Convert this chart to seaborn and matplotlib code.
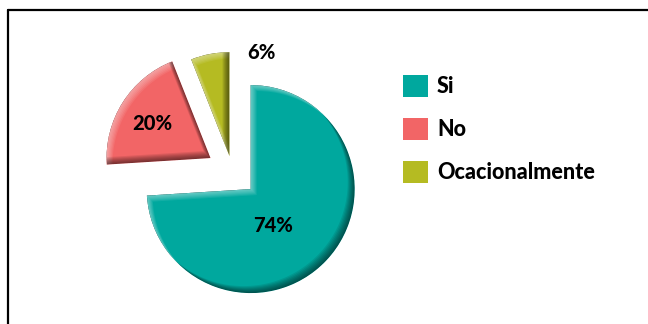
import numpy as np
import matplotlib
matplotlib.use("Agg")
import matplotlib.pyplot as plt
from matplotlib.path import Path
from matplotlib.patches import PathPatch, Patch
from matplotlib.lines import Line2D
import seaborn as sns

# Survey answers and their shares (percent)
categories = ["Si", "No", "Ocacionalmente"]
values = [74, 20, 6]
colors = ["#00A89E", "#F26566", "#B5BB22"]
explode = [0.24, 0.25, 0.155]

# Label placement (distance in radii, angle in degrees) from each wedge's apex
label_dist = [0.41, 0.65, 1.04]
label_ang = [-59, 149, 73]

sns.set_theme(style="white")
plt.rcParams["font.family"] = ["Lato", "DejaVu Sans"]
plt.rcParams["text.color"] = "black"

W, H = 648, 324
fig = plt.figure(figsize=(W / 100, H / 100), dpi=100)
fig.patch.set_facecolor("white")

RPX = 104.0          # pie radius in pixels
L = 1.5              # half-range of the data limits
cx_px, cy_px = 232.5, H - 172.0
side = 2 * L * RPX
ax = fig.add_axes([(cx_px - side / 2) / W, (cy_px - side / 2) / H, side / W, side / H])

wedges, _ = ax.pie(values, colors=colors, explode=explode, startangle=90,
                   counterclock=False, radius=1.0,
                   wedgeprops=dict(linewidth=0, antialiased=True))
ax.set_xlim(-L, L)
ax.set_ylim(-L, L)
ax.set_aspect("equal")
ax.axis("off")

px = 1.0 / RPX


def wedge_poly(w, dx=0.0, dy=0.0, n=240):
    cx, cy = w.center
    t = np.radians(np.linspace(w.theta1, w.theta2, n))
    xs = np.concatenate([[cx], cx + w.r * np.cos(t)]) + dx
    ys = np.concatenate([[cy], cy + w.r * np.sin(t)]) + dy
    return np.column_stack([xs, ys])


def edge_band(w, dx, dy):
    outer = wedge_poly(w)
    inner = wedge_poly(w, dx, dy)[::-1]
    verts = np.vstack([outer, outer[:1], inner, inner[:1]])
    codes = ([Path.MOVETO] + [Path.LINETO] * (len(outer) - 1) + [Path.CLOSEPOLY]
             + [Path.MOVETO] + [Path.LINETO] * (len(inner) - 1) + [Path.CLOSEPOLY])
    return Path(verts, codes)


# Bevel shading: highlight along upper-left edges, shade along lower-right edges
for w in wedges:
    for s in range(1, 7):
        p = PathPatch(edge_band(w, s * px, -s * px), fc="white", ec="none",
                      alpha=0.08, zorder=3)
        ax.add_patch(p)
        p.set_clip_path(w)
    for s in range(1, 8):
        p = PathPatch(edge_band(w, -s * px, s * px), fc="black", ec="none",
                      alpha=0.09, zorder=3)
        ax.add_patch(p)
        p.set_clip_path(w)

# Percentage labels
for w, v, d, a in zip(wedges, values, label_dist, label_ang):
    cx, cy = w.center
    ax.text(cx + d * np.cos(np.radians(a)), cy + d * np.sin(np.radians(a)),
            f"{v}%", ha="center", va="center", fontsize=14.5, fontweight="black",
            color="black", zorder=5)

# Legend
fs = 15.5
fs_px = fs * 100 / 72
handles = [Patch(facecolor=c, edgecolor="none") for c in colors]
leg = fig.legend(handles, categories, loc="upper left",
                 bbox_to_anchor=(403 / W, 1 - 75 / H), frameon=False,
                 borderpad=0, borderaxespad=0, handlelength=25 / fs_px,
                 handleheight=25 / fs_px, handletextpad=9 / fs_px,
                 labelspacing=21 / fs_px,
                 prop=dict(weight="black", size=fs))
for t in leg.get_texts():
    t.set_color("black")

# Chart frame (top and left edges)
fig.add_artist(Line2D([8 / W, 1], [1 - 10 / H, 1 - 10 / H],
                      transform=fig.transFigure, color="black", lw=1.6))
fig.add_artist(Line2D([8 / W, 8 / W], [0, 1 - 10 / H],
                      transform=fig.transFigure, color="black", lw=1.6))

fig.savefig("out.png", dpi=100, facecolor="white")
